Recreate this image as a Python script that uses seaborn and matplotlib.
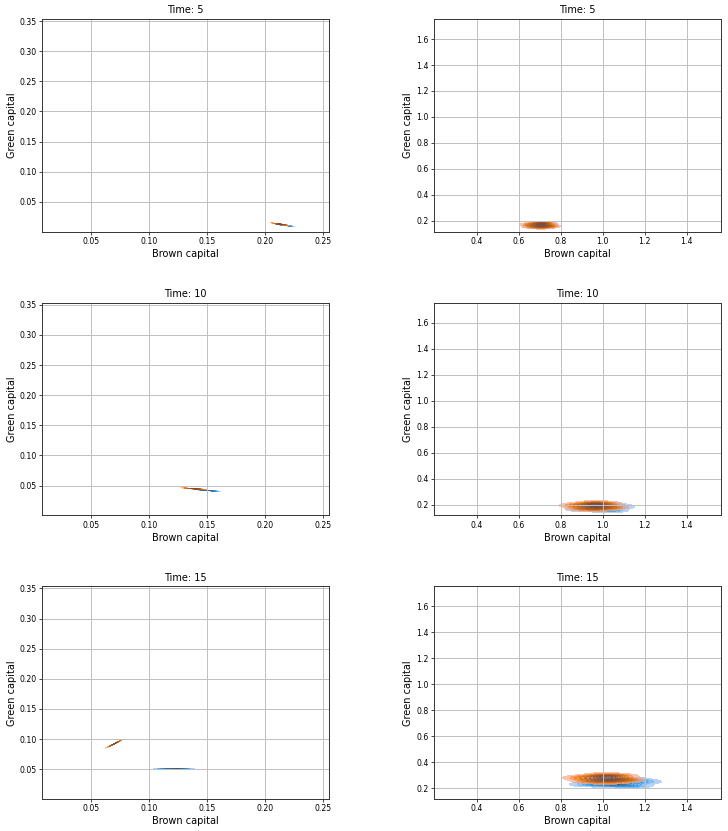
import matplotlib
matplotlib.use("Agg")
import matplotlib.pyplot as plt
import seaborn as sns
import pandas as pd

# ---------------- data ----------------
times = [5, 10, 15]
groups = ["Group 1", "Group 2"]          # blue, orange
x_label = "Brown capital"
y_label = "Green capital"

# left column (small-scale agents)
L5_blue_brown = [0.2120, 0.2135, 0.2148, 0.2158, 0.2167, 0.2175, 0.2184, 0.2194, 0.2206, 0.2219]
L5_blue_green = [0.0127, 0.0116, 0.0119, 0.0113, 0.0117, 0.0108, 0.0111, 0.0102, 0.0106, 0.0098]
L5_orange_brown = [0.2080, 0.2095, 0.2108, 0.2118, 0.2127, 0.2135, 0.2144, 0.2154, 0.2166, 0.2179]
L5_orange_green = [0.0144, 0.0133, 0.0135, 0.0127, 0.0132, 0.0125, 0.0129, 0.0119, 0.0121, 0.0114]

L10_blue_brown = [0.1425, 0.1447, 0.1465, 0.1480, 0.1493, 0.1505, 0.1517, 0.1531, 0.1548, 0.1568]
L10_blue_green = [0.0433, 0.0425, 0.0428, 0.0421, 0.0424, 0.0416, 0.0419, 0.0412, 0.0414, 0.0407]
L10_orange_brown = [0.1323, 0.1343, 0.1360, 0.1374, 0.1386, 0.1397, 0.1409, 0.1422, 0.1438, 0.1456]
L10_orange_green = [0.0457, 0.0449, 0.0452, 0.0445, 0.0449, 0.0443, 0.0447, 0.0439, 0.0442, 0.0436]

L15_blue_brown = [0.1118, 0.1150, 0.1177, 0.1200, 0.1219, 0.1236, 0.1255, 0.1277, 0.1303, 0.1331]
L15_blue_green = [0.0511, 0.0501, 0.0510, 0.0502, 0.0512, 0.0500, 0.0509, 0.0503, 0.0511, 0.0501]
L15_orange_brown = [0.0656, 0.0670, 0.0682, 0.0692, 0.0700, 0.0707, 0.0716, 0.0725, 0.0737, 0.0749]
L15_orange_green = [0.0881, 0.0889, 0.0906, 0.0911, 0.0925, 0.0927, 0.0941, 0.0944, 0.0961, 0.0969]

# right column (large-scale agents)
R5_blue_brown = [0.652, 0.672, 0.685, 0.695, 0.705, 0.708, 0.718, 0.728, 0.738, 0.755]
R5_blue_green = [0.158, 0.177, 0.159, 0.169, 0.154, 0.175, 0.163, 0.181, 0.151, 0.170]
R5_orange_brown = [0.644, 0.666, 0.681, 0.692, 0.703, 0.707, 0.718, 0.729, 0.740, 0.759]
R5_orange_green = [0.171, 0.155, 0.178, 0.164, 0.185, 0.150, 0.173, 0.159, 0.181, 0.160]

R10_blue_brown = [0.889, 0.927, 0.952, 0.971, 0.990, 0.996, 1.015, 1.034, 1.053, 1.085]
R10_blue_green = [0.166, 0.195, 0.168, 0.182, 0.161, 0.191, 0.173, 0.200, 0.156, 0.184]
R10_orange_brown = [0.859, 0.897, 0.922, 0.941, 0.960, 0.966, 0.985, 1.004, 1.023, 1.055]
R10_orange_green = [0.194, 0.171, 0.203, 0.184, 0.212, 0.165, 0.196, 0.177, 0.207, 0.179]

R15_blue_brown = [0.932, 0.982, 1.015, 1.040, 1.065, 1.073, 1.098, 1.123, 1.148, 1.190]
R15_blue_green = [0.232, 0.262, 0.233, 0.249, 0.226, 0.258, 0.239, 0.268, 0.220, 0.251]
R15_orange_brown = [0.890, 0.935, 0.965, 0.988, 1.010, 1.018, 1.040, 1.063, 1.085, 1.123]
R15_orange_green = [0.281, 0.257, 0.291, 0.271, 0.301, 0.251, 0.283, 0.263, 0.295, 0.265]

left_xlim = (0.008, 0.2555)
left_ylim = (0.0006, 0.3533)
right_xlim = (0.198, 1.563)
right_ylim = (0.118, 1.754)

panels = {
    (0, 0): (L5_blue_brown, L5_blue_green, L5_orange_brown, L5_orange_green),
    (1, 0): (L10_blue_brown, L10_blue_green, L10_orange_brown, L10_orange_green),
    (2, 0): (L15_blue_brown, L15_blue_green, L15_orange_brown, L15_orange_green),
    (0, 1): (R5_blue_brown, R5_blue_green, R5_orange_brown, R5_orange_green),
    (1, 1): (R10_blue_brown, R10_blue_green, R10_orange_brown, R10_orange_green),
    (2, 1): (R15_blue_brown, R15_blue_green, R15_orange_brown, R15_orange_green),
}

# ---------------- style ----------------
plt.rcParams.update({
    "font.family": ["DejaVu Sans"],
    "xtick.labelsize": 5.6,
    "ytick.labelsize": 5.6,
    "axes.labelsize": 7.0,
    "axes.titlesize": 7.0,
    "xtick.major.size": 1.9,
    "ytick.major.size": 1.9,
    "xtick.major.width": 0.5,
    "ytick.major.width": 0.5,
    "xtick.major.pad": 1.9,
    "ytick.major.pad": 1.9,
    "axes.labelpad": 2.2,
    "axes.linewidth": 0.7,
    "axes.edgecolor": "#333333",
    "grid.color": "#c0c0c0",
    "grid.linewidth": 0.7,
})

fig, axes = plt.subplots(3, 2, figsize=(7.28, 8.31), dpi=100)
fig.subplots_adjust(left=0.0581, right=0.9904, bottom=0.0385, top=0.9771,
                    wspace=0.366, hspace=0.335)

palette = {groups[0]: "#1f77b4", groups[1]: "#ff7f0e"}

for (r, c), (bb, bg, ob, og) in panels.items():
    ax = axes[r, c]
    df = pd.DataFrame({
        x_label: list(bb) + list(ob),
        y_label: list(bg) + list(og),
        "group": [groups[0]] * len(bb) + [groups[1]] * len(ob),
    })
    sns.kdeplot(data=df, x=x_label, y=y_label, hue="group", hue_order=groups,
                palette=palette, fill=True, alpha=0.7, common_norm=False,
                legend=False, ax=ax, warn_singular=False)
    if c == 0:
        ax.set_xlim(*left_xlim)
        ax.set_ylim(*left_ylim)
        ax.set_xticks([0.05, 0.10, 0.15, 0.20, 0.25])
        ax.set_yticks([0.05, 0.10, 0.15, 0.20, 0.25, 0.30, 0.35])
    else:
        ax.set_xlim(*right_xlim)
        ax.set_ylim(*right_ylim)
        ax.set_xticks([0.4, 0.6, 0.8, 1.0, 1.2, 1.4])
        ax.set_yticks([0.2, 0.4, 0.6, 0.8, 1.0, 1.2, 1.4, 1.6])
    ax.grid(True)
    ax.set_title(f"Time: {times[r]}", pad=4)
    ax.set_xlabel(x_label)
    ax.set_ylabel(y_label)

fig.savefig("out.png", dpi=100)
